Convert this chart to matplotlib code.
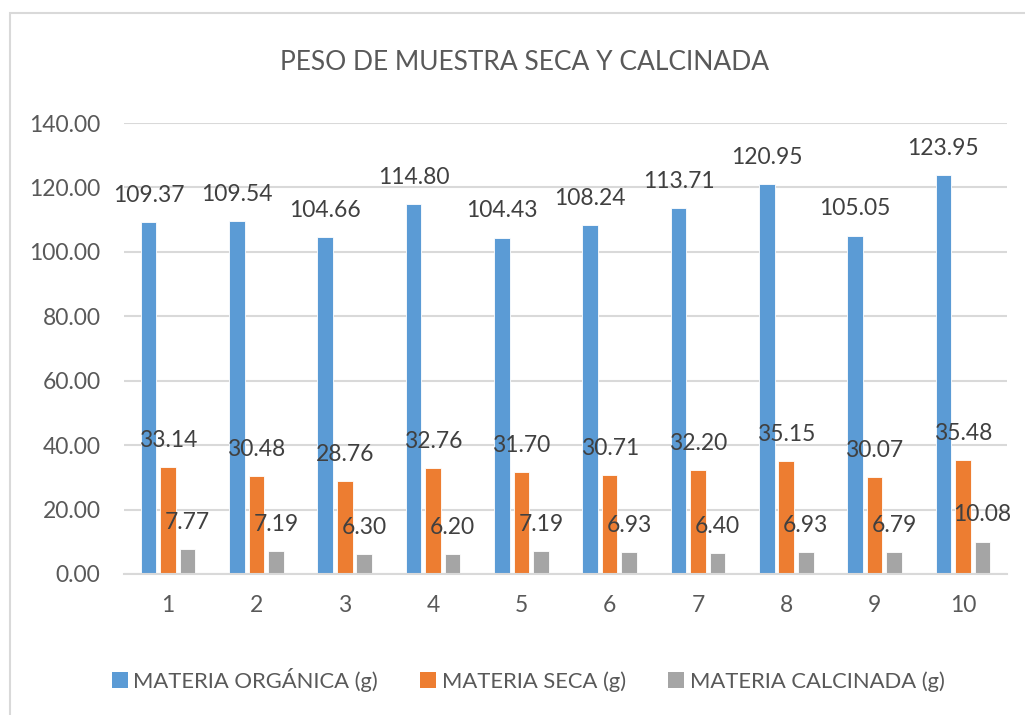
import matplotlib
matplotlib.use("Agg")
import matplotlib.pyplot as plt
import numpy as np
from matplotlib.patches import Rectangle, Patch

muestras = ["1", "2", "3", "4", "5", "6", "7", "8", "9", "10"]
organica = [109.37, 109.54, 104.66, 114.80, 104.43, 108.24, 113.71, 120.95, 105.05, 123.95]
seca = [33.14, 30.48, 28.76, 32.76, 31.70, 30.71, 32.20, 35.15, 30.07, 35.48]
calcinada = [7.77, 7.19, 6.30, 6.20, 7.19, 6.93, 6.40, 6.93, 6.79, 10.08]
series_names = ["MATERIA ORGÁNICA (g)", "MATERIA SECA (g)", "MATERIA CALCINADA (g)"]
colors = ["#5b9bd5", "#ed7d31", "#a5a5a5"]
yticks = [0, 20, 40, 60, 80, 100, 120, 140]

plt.rcParams["font.family"] = ["Lato", "DejaVu Sans"]

fig = plt.figure(figsize=(10.25, 7.15), dpi=100)
W, H = 1025, 715
# chart border
fig.patches.append(Rectangle((10 / W, -0.05), 1.1, 1 - 13 / H + 0.05, transform=fig.transFigure,
                             fill=False, edgecolor="#d9d9d9", lw=1.5))

ax = fig.add_axes([124 / W, 1 - 574 / H, (1007 - 124) / W, (574 - 123) / H])
x = np.arange(len(muestras))
bw, step = 0.176, 0.221
for i, (vals, c) in enumerate(zip([organica, seca, calcinada], colors)):
    xs = x + (i - 1) * step
    ax.bar(xs, vals, width=bw, color=c, edgecolor="white", lw=0.6, zorder=3)
    for xi, v in zip(xs, vals):
        ax.annotate("%.2f" % v, (xi, v), xytext=(0, 14.5), textcoords="offset points",
                    ha="center", va="baseline", fontsize=16.5, color="#404040", zorder=4)

ax.set_xlim(-0.5, len(muestras) - 0.5)
ax.set_ylim(0, 140)
ax.set_yticks(yticks)
ax.set_yticklabels(["%.2f" % t for t in yticks])
ax.set_xticks(x)
ax.set_xticklabels(muestras)
ax.tick_params(axis="y", length=0, pad=17, labelsize=16.5, labelcolor="#595959")
ax.tick_params(axis="x", length=0, pad=15, labelsize=16.5, labelcolor="#595959")
ax.grid(axis="y", color="#d9d9d9", lw=1.5, zorder=0)
for s in ["top", "right", "left"]:
    ax.spines[s].set_visible(False)
ax.spines["bottom"].set_color("#d9d9d9")
ax.spines["bottom"].set_linewidth(1.5)
ax.spines["bottom"].set_zorder(3.5)

fig.text(525 / W, 1 - 62 / H, "PESO DE MUESTRA SECA Y CALCINADA", ha="center", va="center",
         fontsize=19, color="#595959")

handles = [Patch(facecolor=c, edgecolor="none") for c in colors]
fig.legend(handles, series_names, loc="center", bbox_to_anchor=(528 / W, 1 - 680 / H), ncol=3,
           frameon=False, fontsize=15.8, labelcolor="#595959", handlelength=0.75, handleheight=0.75,
           handletextpad=0.25, columnspacing=1.9)

fig.savefig("out.png", dpi=100, facecolor="white")
